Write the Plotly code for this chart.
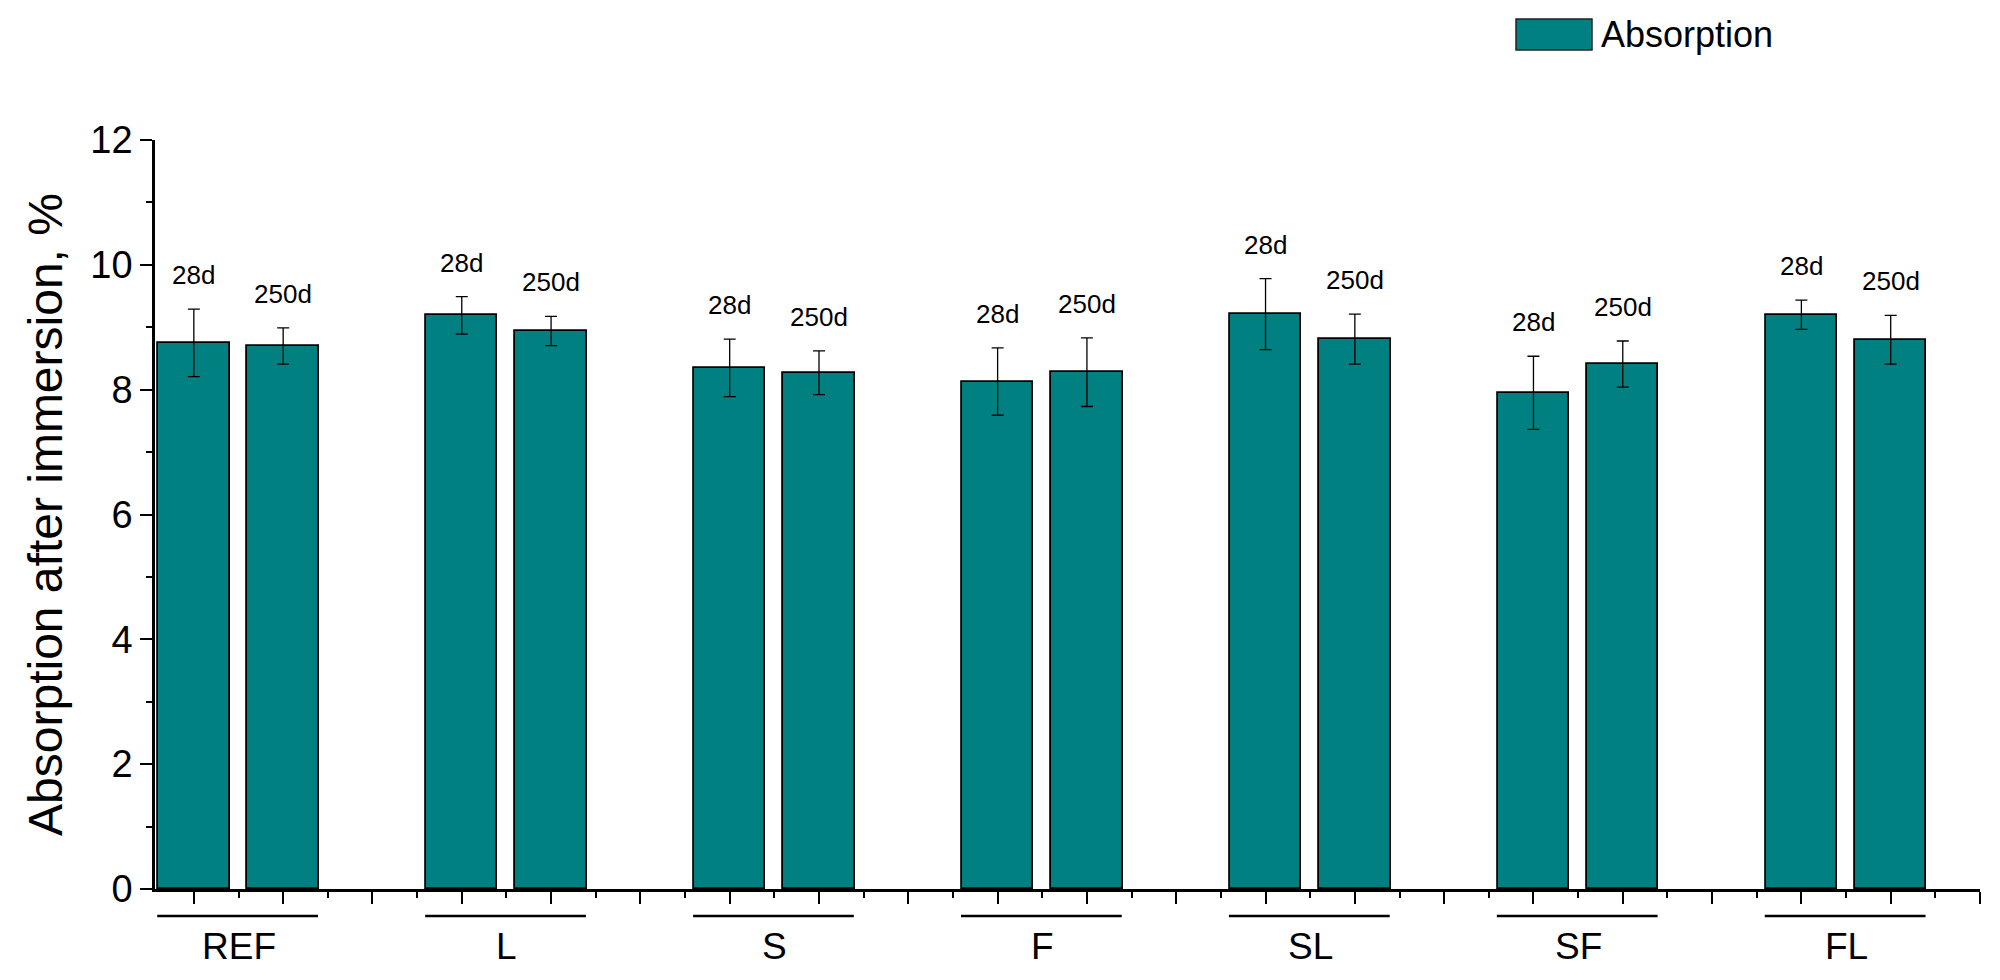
import plotly.graph_objects as go

# ---- data ----
groups = ["REF", "L", "S", "F", "SL", "SF", "FL"]
ages = ["28d", "250d"]
abs_28d = [8.75, 9.19, 8.35, 8.13, 9.21, 7.95, 9.20]
err_28d = [0.54, 0.30, 0.46, 0.54, 0.57, 0.585, 0.235]
abs_250d = [8.70, 8.94, 8.27, 8.28, 8.81, 8.41, 8.80]
err_250d = [0.29, 0.235, 0.35, 0.55, 0.40, 0.37, 0.39]
y_ticks = [0, 2, 4, 6, 8, 10, 12]
series_name = "Absorption"
y_title = "Absorption after immersion, %"

FONT = "Liberation Sans, Arial, sans-serif"
TEAL = "#008080"

# page body has an 8px margin; figure coordinates = window coordinates - OFF
OFF = 8
W, H = 2000 - OFF, 980 - OFF
L_M, T_M = 155 - OFF, 140 - OFF
R_M = W - (1980 - OFF)
B_M = H - (889 - OFF)
plot_w = W - L_M - R_M
plot_h = H - T_M - B_M

def py_paper(py):  # window pixel y -> paper
    return ((H - B_M) - (py - OFF)) / plot_h

def px_paper(px):  # window pixel x -> paper
    return ((px - OFF) - L_M) / plot_w

# bar positions: each group occupies 3 slots (28d, 250d, gap)
x28 = [3 * i + 1 for i in range(len(groups))]
x250 = [3 * i + 2 for i in range(len(groups))]

fig = go.Figure()
bar_style = dict(marker=dict(color=TEAL, line=dict(color="black", width=1.8)), width=0.8)
err_style = dict(type="data", color="black", thickness=1.3, width=6)

fig.add_trace(go.Bar(x=x28, y=abs_28d, name=series_name, showlegend=False,
                     error_y=dict(array=err_28d, **err_style), **bar_style))
fig.add_trace(go.Bar(x=x250, y=abs_250d, name=series_name, showlegend=False,
                     error_y=dict(array=err_250d, **err_style), **bar_style))

annotations = []
shapes = []
# age labels above error bars
for xs, vals, errs, lab in [(x28, abs_28d, err_28d, ages[0]), (x250, abs_250d, err_250d, ages[1])]:
    for x, v, e in zip(xs, vals, errs):
        annotations.append(dict(x=x, y=v + e, xref="x", yref="y", text=lab, showarrow=False,
                                yanchor="middle", yshift=34,
                                font=dict(family=FONT, size=26, color="black")))

# group underline + label
for i, g in enumerate(groups):
    x0 = x28[i] - 0.41
    x1 = x250[i] + 0.39
    shapes.append(dict(type="line", xref="x", yref="paper", x0=x0, x1=x1,
                       y0=py_paper(916), y1=py_paper(916),
                       line=dict(color="black", width=2.7)))
    annotations.append(dict(x=(x28[i] + x250[i]) / 2, y=py_paper(946), xref="x", yref="paper",
                            text=g, showarrow=False, yanchor="middle", xanchor="center",
                            font=dict(family=FONT, size=37, color="black")))

# legend drawn manually (large swatch)
shapes.append(dict(type="rect", xref="paper", yref="paper",
                   x0=px_paper(1516), x1=px_paper(1592),
                   y0=py_paper(50), y1=py_paper(19),
                   fillcolor=TEAL, line=dict(color="#222", width=1.5)))
annotations.append(dict(x=px_paper(1599), y=py_paper(34), xref="paper", yref="paper",
                        text=series_name, showarrow=False, xanchor="left", yanchor="middle",
                        font=dict(family=FONT, size=36, color="black")))

fig.update_layout(
    template="none",
    width=W, height=H,
    margin=dict(l=L_M, r=R_M, t=T_M, b=B_M, autoexpand=False),
    paper_bgcolor="white", plot_bgcolor="white",
    bargap=0, barmode="overlay",
    showlegend=False,
    font=dict(family=FONT, color="black"),
    shapes=shapes, annotations=annotations,
)
fig.update_xaxes(
    range=[0.565, 21], tick0=1, dtick=1, ticks="outside", ticklen=12, tickwidth=2,
    tickcolor="black", showticklabels=False, showgrid=False, zeroline=False,
    showline=True, linecolor="black", linewidth=2.5,
    minor=dict(dtick=0.5, tick0=0.5, ticks="outside", ticklen=6, tickwidth=2, tickcolor="black"),
)
fig.update_yaxes(
    range=[0, 12], tickvals=y_ticks, ticktext=[str(t) for t in y_ticks],
    ticks="outside", ticklen=12, tickwidth=2, tickcolor="black",
    tickfont=dict(family=FONT, size=38, color="black"), ticklabelstandoff=0,
    showgrid=False, zeroline=False, showline=True, linecolor="black", linewidth=2.5,
    minor=dict(dtick=1, tick0=0, ticks="outside", ticklen=6, tickwidth=2, tickcolor="black"),
    title=dict(text=y_title, font=dict(family=FONT, size=48, color="black"), standoff=13),
    automargin=False,
)

fig.write_html("out.html")
